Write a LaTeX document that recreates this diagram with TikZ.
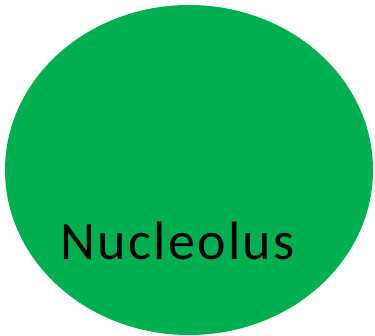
\documentclass[tikz,border=0pt]{standalone}
\usepackage{fontspec}
\setmainfont{Carlito}
\usetikzlibrary{positioning}
\definecolor{cellgreen}{HTML}{00B050}

\begin{document}
\begin{tikzpicture}[
    x=1pt, y=-1pt,
    label/.style={
        black,
        font=\fontsize{54}{60}\selectfont\addfontfeature{LetterSpace=4.4},
        inner sep=0pt,
        anchor=base west,
    },
]

% fix the canvas to the reference size
\useasboundingbox (0,0) rectangle (375,336);

% =============================================
% NUCLEOLUS – green blob
% =============================================
\fill[cellgreen] (189,170) ellipse [x radius=184, y radius=165];

% Nucleolus label
\node[label] (nucleolus) at (60,260) {Nucleolus};

\end{tikzpicture}
\end{document}
